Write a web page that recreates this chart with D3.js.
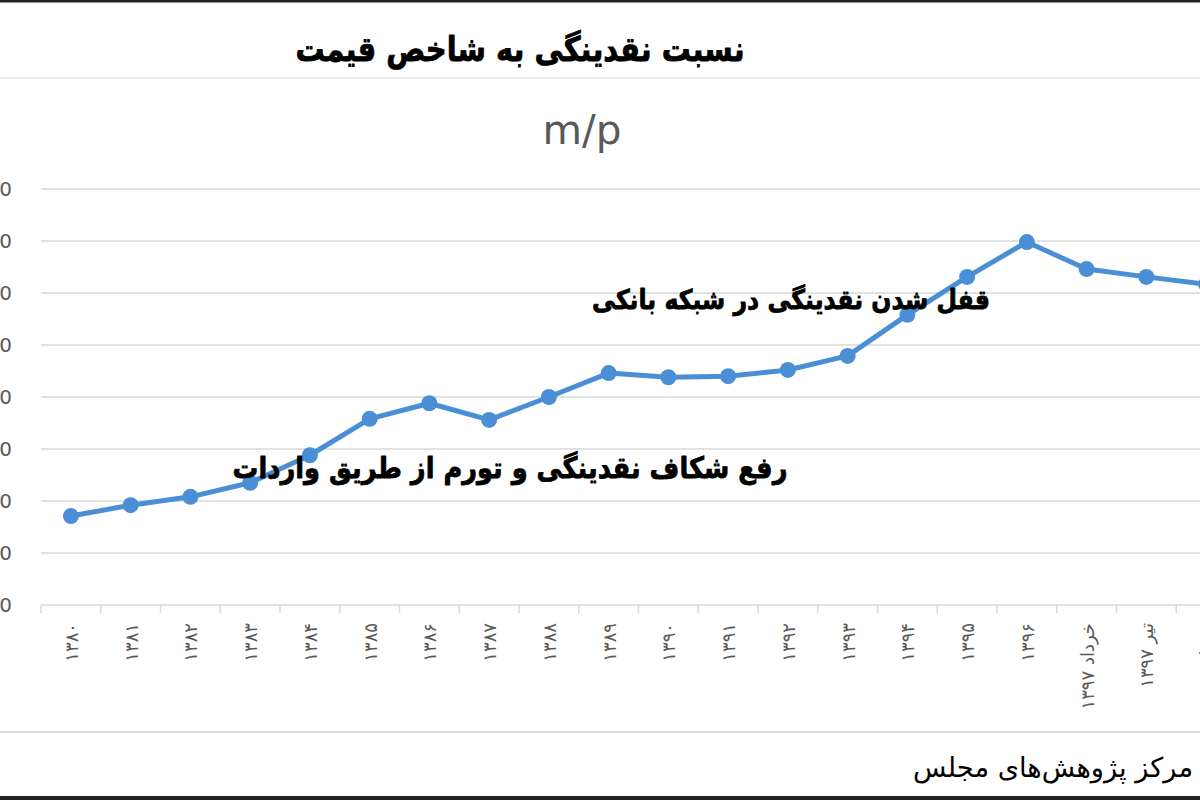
<!DOCTYPE html>
<html>
<head>
<meta charset="utf-8">
<script src="https://cdn.jsdelivr.net/npm/d3@7/dist/d3.min.js"></script>
<style>
html,body{margin:0;padding:0;background:#fff;overflow:hidden;}
svg{display:block;}
text{font-family:"DejaVu Sans",sans-serif;}
</style>
</head>
<body>
<svg id="chart" width="1200" height="800"></svg>
<script>
const categories = ["۱۳۸۰","۱۳۸۱","۱۳۸۲","۱۳۸۳","۱۳۸۴","۱۳۸۵","۱۳۸۶","۱۳۸۷","۱۳۸۸","۱۳۸۹","۱۳۹۰","۱۳۹۱","۱۳۹۲","۱۳۹۳","۱۳۹۴","۱۳۹۵","۱۳۹۶","خرداد ۱۳۹۷","تیر ۱۳۹۷","مرداد ۱۳۹۷"];
const values = [17.1,19.2,20.8,23.5,28.8,35.8,38.8,35.6,40.0,44.6,43.8,44.0,45.2,47.9,55.8,63.1,69.8,64.6,63.1,61.7];
const yTicks = [0,10,20,30,40,50,60,70,80];
const titleText = "نسبت نقدینگی به شاخص قیمت";
const subtitleText = "m/p";
const note1 = "قفل شدن نقدینگی در شبکه بانکی";
const note2 = "رفع شکاف نقدینگی و تورم از طریق واردات";
const sourceText = "مرکز پژوهش‌های مجلس";

const svg = d3.select("#chart");
const W = 1200, H = 800;
const gridColor = "#d9d9d9", labelColor = "#595959", lineColor = "#4a8fd6";

const x = d3.scaleBand().domain(categories).range([41, 41 + 59.75*categories.length]).paddingInner(0).paddingOuter(0);
const y = d3.scaleLinear().domain([0, 80]).range([605, 189]);

function fit(sel, target){
  const w = sel.node().getComputedTextLength();
  const fs = parseFloat(sel.attr("font-size"));
  sel.attr("font-size", (fs*target/w).toFixed(2));
}
// bold text block: centred at (cx, baseline), fitted to width, slightly stretched vertically
function boldText(txt, cx, base, width, fs, sy){
  const g = svg.append("g").attr("transform",`translate(${cx},${base}) scale(1,${sy})`);
  const tx = g.append("text").attr("x",0).attr("y",0).attr("text-anchor","middle")
    .attr("font-size",fs).attr("font-weight","bold").attr("fill","#000")
    .attr("stroke","#000").attr("stroke-width",0.7).attr("stroke-linejoin","round").text(txt);
  fit(tx, width);
  return tx;
}

// frame lines
svg.append("rect").attr("x",0).attr("y",0).attr("width",W).attr("height",2.5).attr("fill","#222");
svg.append("rect").attr("x",0).attr("y",796).attr("width",W).attr("height",4).attr("fill","#222");
svg.append("line").attr("x1",0).attr("x2",W).attr("y1",78).attr("y2",78).attr("stroke","#e6e6e6").attr("stroke-width",1.5);
svg.append("line").attr("x1",0).attr("x2",W).attr("y1",732).attr("y2",732).attr("stroke","#d0d0d0").attr("stroke-width",1.5);

// title
boldText(titleText, 520, 61, 449, 30, 1.18);
const st = svg.append("text").attr("x",582).attr("y",144).attr("text-anchor","middle")
  .attr("font-size",32).attr("fill",labelColor).text(subtitleText);
fit(st, 79);

// grid
svg.append("g").selectAll("line").data(yTicks.filter(d=>d>0)).join("line")
  .attr("x1",41).attr("x2",W).attr("y1",d=>y(d)).attr("y2",d=>y(d))
  .attr("stroke",gridColor).attr("stroke-width",1.5);

// y labels (cropped at the left edge as in the reference)
svg.append("g").selectAll("text").data(yTicks).join("text")
  .attr("x",12).attr("y",d=>y(d)+7).attr("text-anchor","end")
  .attr("font-size",20).attr("fill",labelColor)
  .text(d=>String(d*10));

// x axis
const xAxis = d3.axisBottom(x).tickSize(0).tickFormat("");
const ax = svg.append("g").attr("transform","translate(0,605)").call(xAxis);
ax.select(".domain").attr("stroke",gridColor).attr("stroke-width",1.5).attr("d","M41,0H"+W);
const bounds = categories.map(c=>x(c)).concat([x(categories[categories.length-1])+x.bandwidth()]);
ax.selectAll(".btick").data(bounds).join("line").attr("class","btick")
  .attr("x1",d=>d).attr("x2",d=>d).attr("y1",0).attr("y2",8)
  .attr("stroke",gridColor).attr("stroke-width",1.5);

svg.append("g").selectAll("text").data(categories).join("text")
  .attr("transform",d=>`translate(${x(d)+x.bandwidth()/2+7},623) rotate(-90)`)
  .attr("text-anchor","end").attr("font-size",18).attr("fill",labelColor)
  .text(d=>d);

// line
const cx = d=>x(d)+x.bandwidth()/2;
const line = d3.line().x((d,i)=>cx(categories[i])).y(d=>y(d));
svg.append("path").datum(values).attr("d",line).attr("fill","none")
  .attr("stroke",lineColor).attr("stroke-width",5).attr("stroke-linejoin","round");
svg.append("g").selectAll("circle").data(values).join("circle")
  .attr("cx",(d,i)=>cx(categories[i])).attr("cy",d=>y(d)).attr("r",8).attr("fill",lineColor);

// annotations
boldText(note1, 791, 309, 398, 25, 1.15);
boldText(note2, 510, 478, 555, 25, 1.15);

// source
const s = svg.append("text").attr("x",1053).attr("y",777).attr("text-anchor","middle")
  .attr("font-size",24).attr("fill","#000").text(sourceText);
fit(s, 280);
</script>
</body>
</html>
